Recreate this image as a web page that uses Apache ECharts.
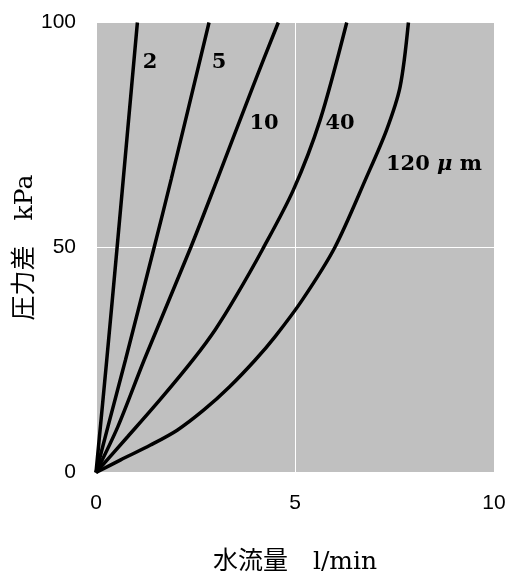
<!DOCTYPE html>
<html><head><meta charset="utf-8">
<script src="https://cdn.jsdelivr.net/npm/echarts@6/dist/echarts.min.js"></script>
<style>html,body{margin:0;padding:0;background:#fff}#c{width:511px;height:578px}</style>
</head><body><div id="c"></div>
<script>
// x: water flow (l/min), y: pressure difference (kPa)
const curve2   = [[0,0],[0.27,25],[0.53,50],[0.785,75],[1.04,100]];
const curve5   = [[0,0],[0.30,10.2],[0.74,25],[1.46,50],[1.89,65.2],[2.84,100]];
const curve10  = [[0,0],[0.55,10.2],[1.21,25],[2.38,50],[3.05,65.2],[3.94,85.7],[4.58,100]];
const curve40  = [[0,0],[0.80,8],[1.62,16.3],[2.45,25.2],[3.0,31.8],[3.50,38.9],[4.18,49.5],[4.96,62.8],[5.63,78.3],[6.30,100]];
const curve120 = [[0,0],[0.62,2.8],[1.37,6.1],[2.04,9.4],[2.71,13.9],[3.35,19.0],[4.00,25],[4.50,30.2],[5.18,38.3],[6.0,50],[6.80,65.7],[7.30,76.1],[7.64,85.7],[7.85,100]];
const curveNames = ['2','5','10','40','120 {i|μ} m'];
const xTicks = [0,5,10];
const yTicks = [0,50,100];

const chart = echarts.init(document.getElementById('c'));
const mk = (name, d) => ({name, type:'line', data:d, smooth:0.3, symbol:'none',
  lineStyle:{color:'#000', width:3.5}, z:5});
const lbl = (text, x, y) => ({type:'text', x, y, z:10, style:{text, x:0, y:0, align:'center', verticalAlign:'middle',
  fontFamily:'DejaVu Serif', fontWeight:'bold', fontSize:21, fill:'#000',
  rich:{i:{fontFamily:'DejaVu Serif', fontStyle:'italic', fontWeight:'bold', fontSize:21, fill:'#000'}}}});
chart.setOption({
  animation:false,
  backgroundColor:'#fff',
  grid:{left:96, right:17, top:22.5, bottom:105.5, show:true, backgroundColor:'#c0c0c0', borderWidth:0,
    containLabel:false, outerBoundsMode:'none'},
  xAxis:{type:'value', min:xTicks[0], max:xTicks[2], interval:xTicks[1]-xTicks[0],
    axisLine:{show:false}, axisTick:{show:false},
    splitLine:{show:true, lineStyle:{color:'#fff', width:1}},
    axisLabel:{fontFamily:'Liberation Sans', fontSize:21, color:'#000', margin:20},
    name:'水流量　l/min', nameLocation:'middle', nameGap:77, nameMoveOverlap:false,
    nameTextStyle:{fontFamily:'DejaVu Serif, Noto Sans CJK JP', fontSize:25, color:'#000'}},
  yAxis:{type:'value', min:yTicks[0], max:yTicks[2], interval:yTicks[1]-yTicks[0],
    axisLine:{show:false}, axisTick:{show:false},
    splitLine:{show:true, lineStyle:{color:'#fff', width:1}},
    axisLabel:{fontFamily:'Liberation Sans', fontSize:21, color:'#000', margin:20},
    name:'圧力差　kPa', nameLocation:'middle', nameGap:58, nameMoveOverlap:false,
    nameTextStyle:{fontFamily:'DejaVu Serif, Noto Sans CJK JP', fontSize:25, color:'#000'}},
  series:[mk(curveNames[0],curve2), mk(curveNames[1],curve5), mk(curveNames[2],curve10),
          mk(curveNames[3],curve40), mk('120μm',curve120)],
  graphic:[
    lbl(curveNames[0], 150, 63),
    lbl(curveNames[1], 219, 63),
    lbl(curveNames[2], 264, 124),
    lbl(curveNames[3], 340, 124),
    lbl(curveNames[4], 434, 165)
  ]
});
</script></body></html>
